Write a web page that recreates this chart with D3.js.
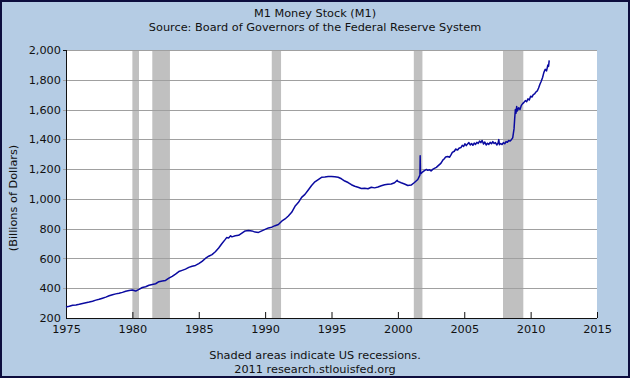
<!DOCTYPE html>
<html>
<head>
<meta charset="utf-8">
<script src="https://cdn.jsdelivr.net/npm/d3@7"></script>
<style>
  body { margin: 0; padding: 0; }
  #chart { width: 630px; height: 378px; }
  text { font-family: Verdana, "DejaVu Sans", sans-serif; }
</style>
</head>
<body>
<div id="chart"></div>
<script>
// M1 series (decimal year, billions of dollars)
const m1Dates = [
  1975.0, 1975.25, 1975.5, 1975.75, 1976.0, 1976.25, 1976.5, 1976.75,
  1977.0, 1977.25, 1977.5, 1977.75, 1978.0, 1978.25, 1978.5, 1978.75,
  1979.0, 1979.25, 1979.5, 1979.75, 1980.0, 1980.25, 1980.5, 1980.75,
  1981.0, 1981.25, 1981.5, 1981.75, 1982.0, 1982.25, 1982.5, 1982.75,
  1983.0, 1983.25, 1983.5, 1983.75, 1984.0, 1984.25, 1984.5, 1984.75,
  1985.0, 1985.25, 1985.5, 1985.75, 1986.0, 1986.25, 1986.5, 1986.75,
  1987.0, 1987.1, 1987.25, 1987.4, 1987.5, 1987.75, 1988.0, 1988.25, 1988.5, 1988.75,
  1989.0, 1989.25, 1989.5, 1989.75, 1990.0, 1990.25, 1990.5, 1990.75,
  1991.0, 1991.25, 1991.5, 1991.75, 1992.0, 1992.25, 1992.5, 1992.75,
  1993.0, 1993.25, 1993.5, 1993.75, 1994.0, 1994.25, 1994.5, 1994.75,
  1995.0, 1995.25, 1995.5, 1995.75, 1996.0, 1996.25, 1996.5, 1996.75,
  1997.0, 1997.25, 1997.5, 1997.75, 1998.0, 1998.25, 1998.5, 1998.75,
  1999.0, 1999.25, 1999.5, 1999.75, 1999.95, 2000.0, 2000.25, 2000.5, 2000.75,
  2001.0, 2001.25, 2001.5, 2001.66, 2001.68, 2001.7, 2001.75, 2001.85,
  2002.0, 2002.15, 2002.25, 2002.4, 2002.5, 2002.65, 2002.75, 2002.9,
  2003.0, 2003.15, 2003.25, 2003.4, 2003.5, 2003.6, 2003.75, 2003.9,
  2004.0, 2004.1, 2004.25, 2004.35, 2004.5, 2004.6, 2004.75, 2004.85, 2004.95,
  2005.05, 2005.15, 2005.25, 2005.35, 2005.45, 2005.55, 2005.65, 2005.75, 2005.85, 2005.95,
  2006.05, 2006.15, 2006.25, 2006.35, 2006.45, 2006.55, 2006.65, 2006.75, 2006.85, 2006.95,
  2007.05, 2007.15, 2007.25, 2007.35, 2007.45, 2007.55, 2007.6, 2007.65, 2007.75, 2007.85, 2007.95,
  2008.05, 2008.15, 2008.25, 2008.35, 2008.45, 2008.55, 2008.65, 2008.7, 2008.75, 2008.8,
  2008.85, 2008.9, 2008.95, 2009.0, 2009.1, 2009.2, 2009.3, 2009.4, 2009.5,
  2009.6, 2009.7, 2009.8, 2009.9, 2010.0, 2010.1, 2010.2, 2010.3, 2010.4, 2010.5,
  2010.6, 2010.7, 2010.8, 2010.9, 2011.0, 2011.1, 2011.2, 2011.3, 2011.35, 2011.4
];
const m1Values = [
  274, 279, 285, 288, 292, 297, 302, 307,
  313, 320, 326, 333, 340, 349, 356, 362,
  366, 372, 380, 384, 388, 381, 392, 405,
  410, 420, 425, 430, 444, 448, 452, 468,
  480, 495, 512, 520, 528, 540, 548, 553,
  565, 580, 600, 615, 626, 645, 670, 700,
  728, 740, 738, 752, 745, 752, 755, 770, 785, 787,
  785, 777, 775, 785, 795, 805, 810, 820,
  828, 850, 865, 885, 910, 950, 975, 1010,
  1030, 1060, 1090, 1115, 1130, 1145, 1147, 1150,
  1150, 1148, 1145, 1135, 1120, 1110, 1095, 1085,
  1078, 1070, 1072, 1068, 1078, 1074, 1080, 1088,
  1095, 1098, 1100, 1108, 1125, 1118, 1108, 1100, 1090,
  1093, 1110, 1130, 1160, 1290, 1175, 1170, 1180,
  1190, 1198, 1192, 1195, 1188, 1200, 1205, 1212,
  1220, 1232, 1240, 1262, 1270, 1282, 1285, 1280,
  1295, 1312, 1320, 1335, 1328, 1340, 1345, 1360, 1352,
  1370, 1358, 1368, 1378, 1362, 1372, 1360, 1375, 1366, 1380,
  1372, 1388, 1378, 1392, 1368, 1382, 1362, 1374, 1366, 1380,
  1370, 1385, 1372, 1378, 1362, 1376, 1398, 1364, 1372, 1365, 1378,
  1370, 1385, 1380, 1392, 1388, 1398, 1410, 1440, 1470, 1540,
  1600, 1575, 1620, 1590, 1612, 1600, 1628, 1640, 1648,
  1660, 1652, 1672, 1664, 1690, 1684, 1700, 1705, 1718, 1725,
  1745, 1770, 1790, 1815, 1850, 1870, 1860, 1900, 1890, 1930
];

// NBER recessions, start and end (decimal year)
const recessionStarts = [1980.0, 1981.5, 1990.5, 2001.2, 2007.92];
const recessionEnds = [1980.5, 1982.83, 1991.2, 2001.85, 2009.45];

const xTicks = [1975, 1980, 1985, 1990, 1995, 2000, 2005, 2010, 2015];
const yTicks = [200, 400, 600, 800, 1000, 1200, 1400, 1600, 1800, 2000];

const titleLines = ["M1 Money Stock (M1)", "Source: Board of Governors of the Federal Reserve System"];
const footLines = ["Shaded areas indicate US recessions.", "2011 research.stlouisfed.org"];
const yTitle = "(Billions of Dollars)";

const W = 630, H = 378;
const margin = { top: 50, right: 33, bottom: 60, left: 66 };
const width = W - margin.left - margin.right;
const height = H - margin.top - margin.bottom;
const fs = "11.3px";

const root = d3.select("#chart").append("svg")
    .attr("width", W)
    .attr("height", H);

// background + frame
root.append("rect")
    .attr("x", 1).attr("y", 1)
    .attr("width", W - 2).attr("height", H - 2)
    .attr("fill", "#b5cce4")
    .attr("stroke", "#0d0d3d")
    .attr("stroke-width", 2);

const svg = root.append("g")
    .attr("transform", "translate(" + margin.left + "," + margin.top + ")");

const x = d3.scaleLinear().domain([1975, 2015]).range([0, width]);
const y = d3.scaleLinear().domain([200, 2000]).range([height, 0]);

// plot area
svg.append("rect")
    .attr("width", width)
    .attr("height", height)
    .attr("fill", "#ffffff");

// recessions
svg.selectAll(".recession")
    .data(recessionStarts)
    .enter().append("rect")
    .attr("class", "recession")
    .attr("x", d => x(d))
    .attr("y", 0)
    .attr("width", (d, i) => x(recessionEnds[i]) - x(d))
    .attr("height", height)
    .attr("fill", "#c0c0c0");

// gridlines
svg.selectAll(".grid")
    .data(yTicks.slice(1))
    .enter().append("line")
    .attr("class", "grid")
    .attr("x1", -3)
    .attr("x2", width)
    .attr("y1", d => Math.round(y(d)) + 0.5)
    .attr("y2", d => Math.round(y(d)) + 0.5)
    .attr("stroke", "#a0a0a0")
    .attr("stroke-width", 1);

// y axis
const yAxis = d3.axisLeft(y)
    .tickValues(yTicks)
    .tickFormat(d3.format(","))
    .tickSize(0)
    .tickPadding(5);

const gy = svg.append("g").attr("class", "y-axis").call(yAxis);
gy.select(".domain").remove();
gy.selectAll("text")
    .style("font-size", fs)
    .attr("fill", "#111");

// x axis
const xAxis = d3.axisBottom(x)
    .tickValues(xTicks)
    .tickFormat(d3.format("d"))
    .tickSizeInner(-6)
    .tickSizeOuter(0)
    .tickPadding(4);

const gx = svg.append("g")
    .attr("class", "x-axis")
    .attr("transform", "translate(0," + height + ")")
    .call(xAxis);
gx.select(".domain").remove();
gx.selectAll("line").attr("stroke", "#111");
gx.selectAll("text")
    .style("font-size", fs)
    .attr("fill", "#111")
    .attr("dy", "1.0em");

// axis lines
svg.append("line")
    .attr("x1", 0.5).attr("x2", 0.5)
    .attr("y1", 0).attr("y2", height)
    .attr("stroke", "#111").attr("stroke-width", 1);
svg.append("line")
    .attr("x1", -3).attr("x2", 0)
    .attr("y1", 0.5).attr("y2", 0.5)
    .attr("stroke", "#111");
svg.append("line")
    .attr("x1", 0).attr("x2", width)
    .attr("y1", height + 0.5).attr("y2", height + 0.5)
    .attr("stroke", "#111").attr("stroke-width", 1);

// series
const line = d3.line()
    .x((d, i) => x(m1Dates[i]))
    .y(d => y(d));

svg.append("path")
    .datum(m1Values)
    .attr("fill", "none")
    .attr("stroke", "#0a0aa0")
    .attr("stroke-width", 1.5)
    .attr("stroke-linejoin", "round")
    .attr("d", line);

// titles
root.selectAll(".title")
    .data(titleLines)
    .enter().append("text")
    .attr("class", "title")
    .attr("x", W / 2)
    .attr("y", (d, i) => 17 + i * 14)
    .attr("text-anchor", "middle")
    .style("font-size", fs)
    .attr("fill", "#111")
    .text(d => d);

root.selectAll(".foot")
    .data(footLines)
    .enter().append("text")
    .attr("class", "foot")
    .attr("x", W / 2)
    .attr("y", (d, i) => 359 + i * 14)
    .attr("text-anchor", "middle")
    .style("font-size", fs)
    .attr("fill", "#111")
    .text(d => d);

root.append("text")
    .attr("transform", "translate(17,198) rotate(-90)")
    .attr("text-anchor", "middle")
    .style("font-size", fs)
    .attr("fill", "#111")
    .text(yTitle);
</script>
</body>
</html>
